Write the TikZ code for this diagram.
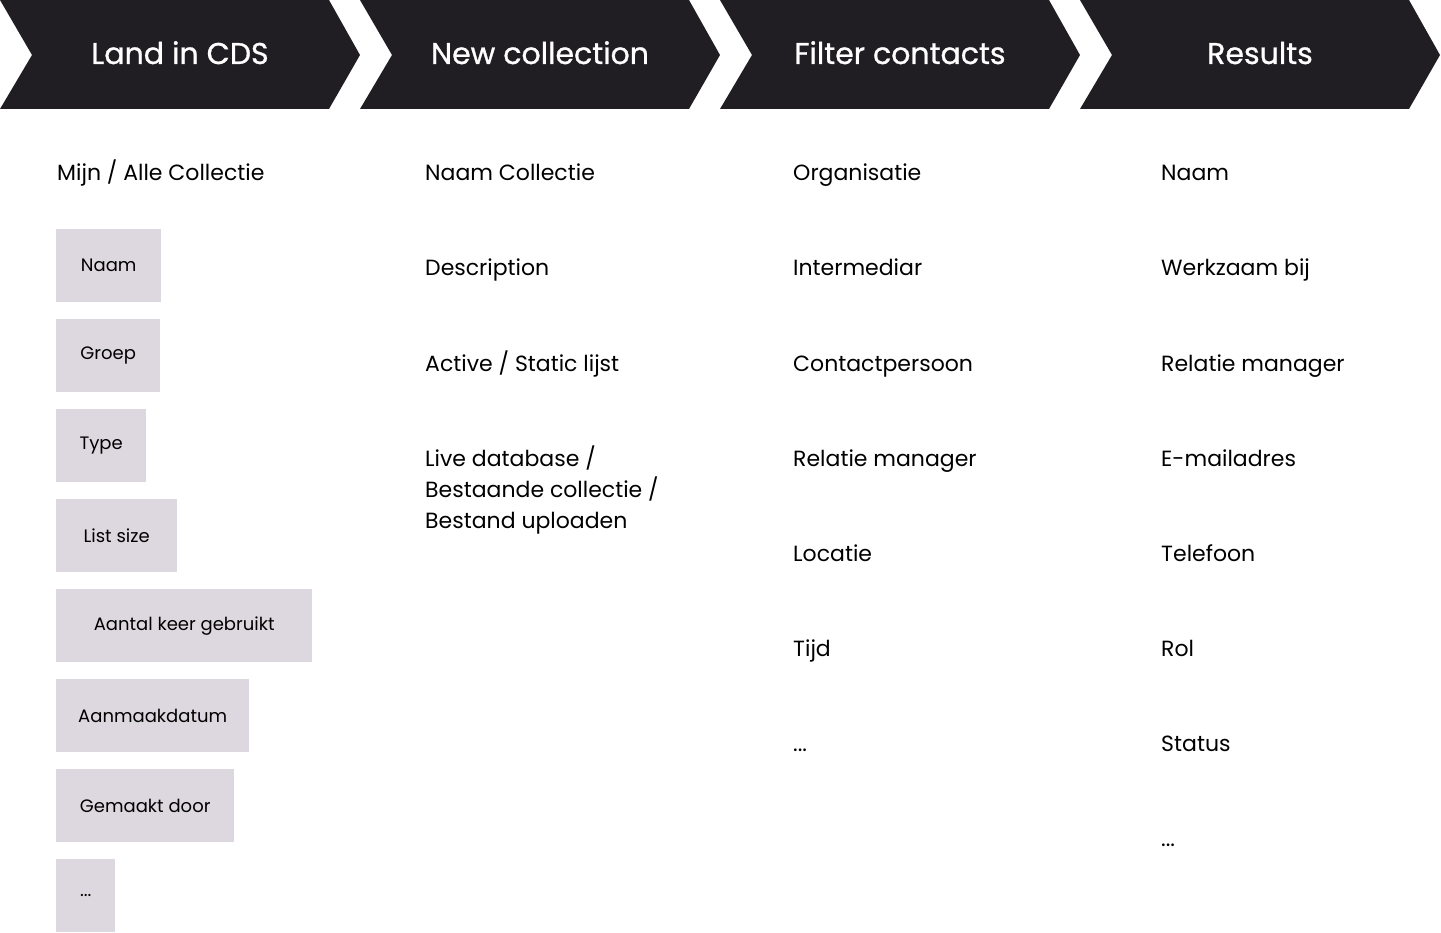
\documentclass[tikz,border=0pt]{standalone}
\usepackage{fontspec}
\setmainfont{Poppins}
\newfontfamily\headfont[FakeBold=0.9]{Poppins}
\definecolor{chevc}{RGB}{32,30,34}
\definecolor{boxc}{RGB}{221,216,223}
\begin{document}
\begin{tikzpicture}[x=1pt,y=-1pt,
  chevron/.style={fill=chevc, draw=none},
  head/.style={text=white, anchor=base, inner sep=0, font=\headfont\fontsize{30}{36}\selectfont},
  item/.style={anchor=base west, inner sep=0, align=left, font=\fontsize{22}{31}\selectfont},
  tag/.style={fill=boxc, anchor=north west, inner sep=0, minimum height=73pt, font=\fontsize{18}{22}\selectfont}]
\useasboundingbox (0,0) rectangle (1441,933);
% chevrons
\foreach \i in {0,1,2,3}{
  \fill[chevron] (360*\i,0) -- (360*\i+329,0) -- (360*\i+360,55) -- (360*\i+329,109) -- (360*\i,109) -- (360*\i+32,55) -- cycle;
}
\node[head] (h1) at (180,64) {Land in CDS};
\node[head] (h2) at (540,64) {New collection};
\node[head] (h3) at (900,64) {Filter contacts};
\node[head] (h4) at (1260,64) {Results};
% column 1
\node[item] (c1a) at (57,181) {Mijn / Alle Collectie};
\node[tag, minimum width=105pt] (t1) at (56,229) {Naam};
\node[tag, minimum width=104pt] (t2) at (56,319) {Groep};
\node[tag, minimum width=90pt] (t3) at (56,409) {Type};
\node[tag, minimum width=121pt] (t4) at (56,499) {List size};
\node[tag, minimum width=256pt] (t5) at (56,589) {Aantal keer gebruikt};
\node[tag, minimum width=193pt] (t6) at (56,679) {Aanmaakdatum};
\node[tag, minimum width=178pt] (t7) at (56,769) {Gemaakt door};
\node[tag, minimum width=59pt] (t8) at (56,859) {...};
% column 2
\node[item] (c2a) at (425,181) {Naam Collectie};
\node[item] (c2b) at (425,276) {Description};
\node[item] (c2c) at (425,371) {Active / Static lijst};
\node[item] (c2d) at (425,528) {Live database /\\Bestaande collectie /\\Bestand uploaden};
% column 3
\node[item] (c3a) at (793,181) {Organisatie};
\node[item] (c3b) at (793,276) {Intermediar};
\node[item] (c3c) at (793,371) {Contactpersoon};
\node[item] (c3d) at (793,466) {Relatie manager};
\node[item] (c3e) at (793,561) {Locatie};
\node[item] (c3f) at (793,656) {Tijd};
\node[item] (c3g) at (793,751) {...};
% column 4
\node[item] (c4a) at (1161,181) {Naam};
\node[item] (c4b) at (1161,276) {Werkzaam bij};
\node[item] (c4c) at (1161,371) {Relatie manager};
\node[item] (c4d) at (1161,466) {E-mailadres};
\node[item] (c4e) at (1161,561) {Telefoon};
\node[item] (c4f) at (1161,656) {Rol};
\node[item] (c4g) at (1161,751) {Status};
\node[item] (c4h) at (1161,846) {...};
\end{tikzpicture}
\end{document}
